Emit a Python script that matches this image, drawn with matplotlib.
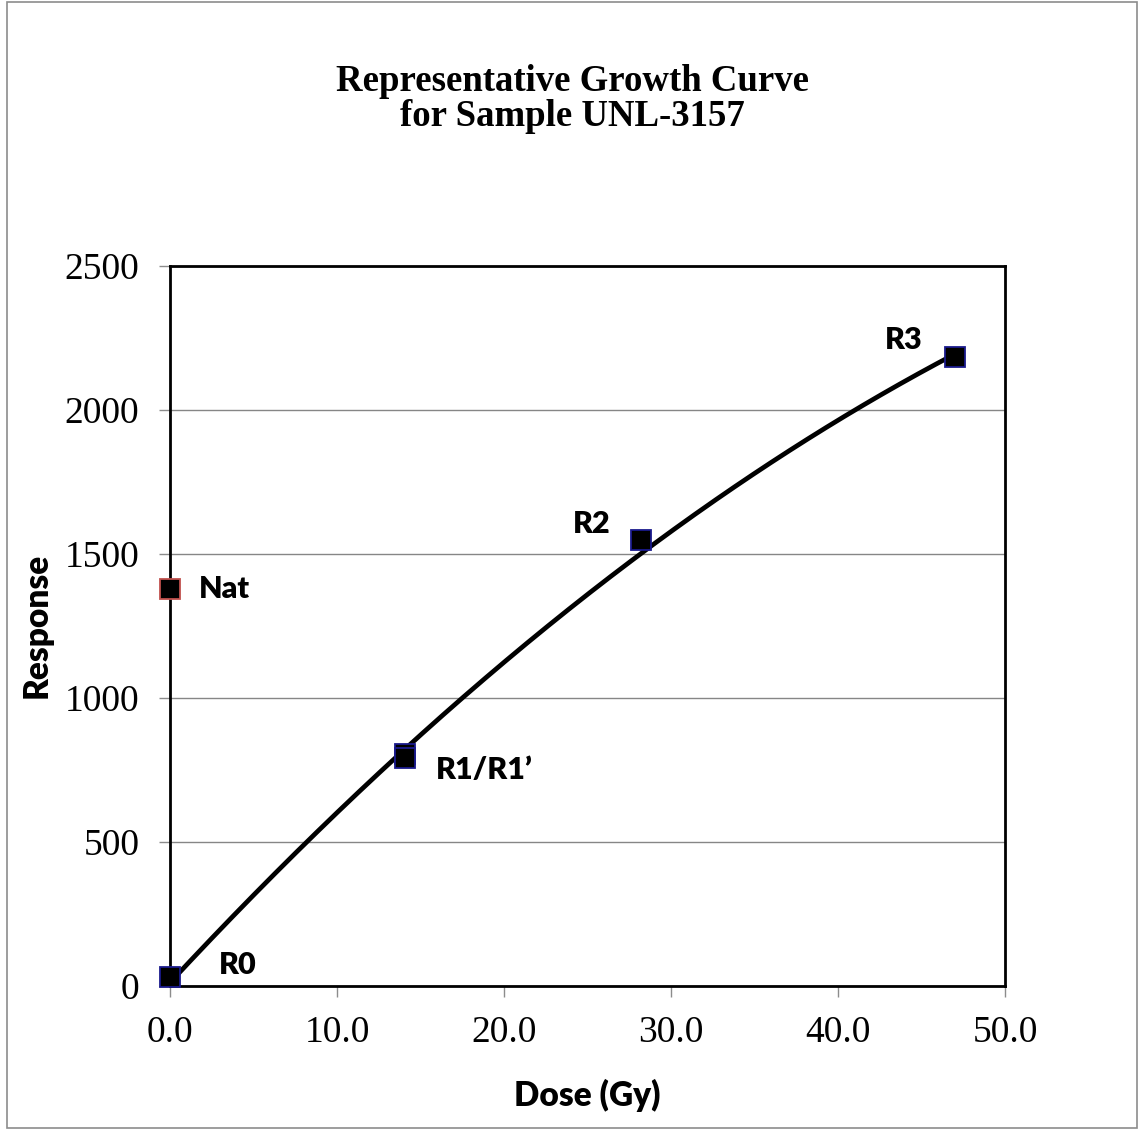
import numpy as np
import matplotlib
matplotlib.use("Agg")
import matplotlib.pyplot as plt
from matplotlib.patches import Rectangle

# Data
dose = [0.0, 14.1, 14.1, 28.2, 47.0]
response = [30, 805, 790, 1546, 2181]
nat_dose = [0.0]
nat_response = [1376]
point_labels = ["R0", "R1/R1\u2019", "R2", "R3", "Nat"]
label_x = [2.9, 15.9, 24.1, 42.8, 1.7]
label_y = [73, 749, 1602, 2240, 1376]
xticks = [0, 10, 20, 30, 40, 50]
yticks = [0, 500, 1000, 1500, 2000, 2500]

W, H = 1139, 1129
fig = plt.figure(figsize=(W / 100, H / 100), dpi=100)
fig.patch.set_facecolor("white")
fig.add_artist(Rectangle((7 / W, 1 / H), (1137 - 7) / W, (1127 - 1) / H,
                         transform=fig.transFigure, fill=False,
                         edgecolor="#8c8c8c", linewidth=1.2))

ax = fig.add_axes([170 / W, 1 - 986 / H, (1005 - 170) / W, (986 - 265.5) / H])

# fitted growth curve (quadratic fit to the points)
coef = np.polyfit(dose, response, 2)
xs = np.linspace(0, max(dose), 300)
ax.plot(xs, np.polyval(coef, xs), color="black", linewidth=3.4, zorder=3)

ax.plot(dose, response, linestyle="none", marker="s", markersize=14,
        markerfacecolor="black", markeredgecolor="#1a1a8c", markeredgewidth=1.3, zorder=4,
        clip_on=False)
ax.plot(nat_dose, nat_response, linestyle="none", marker="s", markersize=14,
        markerfacecolor="black", markeredgecolor="#c0504d", markeredgewidth=1.3, zorder=4,
        clip_on=False)

for t, lx, ly in zip(point_labels, label_x, label_y):
    ax.text(lx, ly, t, fontsize=22, fontweight="heavy", family="Lato",
            ha="left", va="center", color="black", zorder=5)

ax.set_xlim(0, 50)
ax.set_ylim(0, 2500)
ax.set_xticks(xticks)
ax.set_xticklabels([f"{v:.1f}" for v in xticks])
ax.set_yticks(yticks)
ax.set_yticklabels([str(v) for v in yticks])
for lab in ax.get_xticklabels() + ax.get_yticklabels():
    lab.set_family("Liberation Serif")
    lab.set_fontsize(27)
ax.tick_params(axis="both", direction="out", length=8, width=1, color="#8c8c8c")
ax.tick_params(axis="y", pad=14)
ax.tick_params(axis="x", pad=13)

ax.grid(axis="y", color="#868686", linewidth=1)
ax.set_axisbelow(True)
for s in ax.spines.values():
    s.set_linewidth(2)
    s.set_color("black")

ax.set_xlabel("Dose (Gy)", fontsize=24, fontweight="heavy", family="Lato", labelpad=21)
ax.set_ylabel("Response", fontsize=24, fontweight="heavy", family="Lato", labelpad=9)

fig.text(572 / W, 1 - 91 / H, "Representative Growth Curve",
         ha="center", va="baseline", fontsize=26.5, fontweight="bold",
         family="Liberation Serif")
fig.text(572 / W, 1 - 126 / H, "for Sample UNL-3157",
         ha="center", va="baseline", fontsize=26.5, fontweight="bold",
         family="Liberation Serif")

fig.savefig("out.png", dpi=100)
